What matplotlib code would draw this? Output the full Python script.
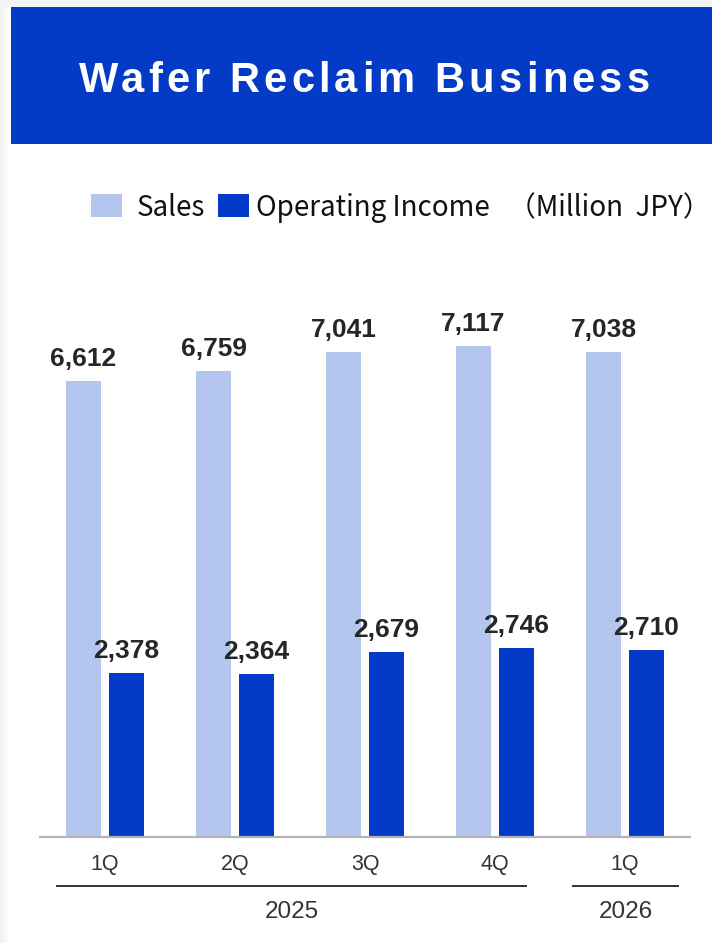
import matplotlib
matplotlib.use("Agg")
import matplotlib.pyplot as plt
import numpy as np
from matplotlib import font_manager
from matplotlib.patches import Rectangle
from matplotlib.transforms import blended_transform_factory

# data
quarters = ["1Q", "2Q", "3Q", "4Q", "1Q"]
years = ["2025", "2026"]
sales = [6612, 6759, 7041, 7117, 7038]
operating_income = [2378, 2364, 2679, 2746, 2710]
title = "Wafer Reclaim Business"
legend_labels = ["Sales", "Operating Income"]
unit_label = "（Million  JPY）"

SALES_COLOR = "#B4C6EE"
OI_COLOR = "#033BC8"
HEADER_COLOR = "#033AC6"
TEXT_DARK = "#262626"

W, H = 712, 943
DPI = 100


def pick_font(names):
    for n in names:
        try:
            font_manager.findfont(n, fallback_to_default=False)
            return n
        except ValueError:
            pass
    return "DejaVu Sans"


ARIAL = pick_font(["Liberation Sans", "DejaVu Sans"])
NARROW = pick_font(["Liberation Sans Narrow", "Liberation Sans"])
JP = pick_font(["Noto Sans CJK JP", "Noto Sans"])

fig = plt.figure(figsize=(W / DPI, H / DPI), dpi=DPI)
fig.patch.set_facecolor("white")

# full-figure overlay in pixel coordinates (y down)
bg = fig.add_axes([0, 0, 1, 1])
grad = np.linspace(0.94, 1.0, 10)[None, :]
bg.imshow(grad, extent=(0, 10, H, 0), cmap="gray", vmin=0, vmax=1, aspect="auto")
bg.add_patch(Rectangle((0, 0), W, 7, color="#f3f3f3", lw=0))
bg.add_patch(Rectangle((11, 7), W - 11, 137, color=HEADER_COLOR, lw=0))
bg.set_xlim(0, W)
bg.set_ylim(H, 0)
bg.axis("off")


# letter-spaced title
def spaced_text(ax, xc, y, s, spacing, **kw):
    r = fig.canvas.get_renderer()

    def width(txt):
        t = ax.text(0, 0, txt, **kw)
        w = t.get_window_extent(renderer=r).width
        t.remove()
        return w

    total = width(s) + spacing * (len(s) - 1)
    x0 = xc - total / 2
    for i, ch in enumerate(s):
        if ch == " ":
            continue
        left = width(s[: i + 1]) - width(ch)
        ax.text(x0 + left + spacing * i, y, ch, ha="left", va="baseline", **kw)


title_kw = dict(fontsize=30, fontweight="bold", family=NARROW, color="white")
spaced_text(bg, 364, 92, title, 7 if NARROW != ARIAL else 4.2, **title_kw)

# legend
legend_kw = dict(fontsize=20, family=JP, color="#111111", va="baseline")
bg.add_patch(Rectangle((91, 194), 31, 23, color=SALES_COLOR, lw=0))
bg.text(137, 216, legend_labels[0], ha="left", **legend_kw)
bg.add_patch(Rectangle((218, 194), 31, 23, color=OI_COLOR, lw=0))
bg.text(256, 216, legend_labels[1], ha="left", **legend_kw)
bg.text(711, 216, unit_label, ha="right", **legend_kw)

# bar chart
ax_bottom, ax_top = 837, 251
ax = fig.add_axes([40 / W, (H - ax_bottom) / H, 650 / W, (ax_bottom - ax_top) / H])
ax.set_facecolor("none")
x = np.arange(len(quarters))
off, bw = 0.165, 0.27
ax.bar(x - off, sales, bw, color=SALES_COLOR, lw=0)
ax.bar(x + off, operating_income, bw, color=OI_COLOR, lw=0)
ax.set_xlim(-0.5, 4.5)
ax.set_ylim(0, 8500)
for side in ["top", "left", "right"]:
    ax.spines[side].set_visible(False)
ax.spines["bottom"].set_color("#b3b3b3")
ax.spines["bottom"].set_linewidth(1.6)
ax.set_xticks([])
ax.set_yticks([])

px = 72 / DPI
value_kw = dict(ha="center", va="baseline", fontsize=19, fontweight="bold",
                family=ARIAL, color=TEXT_DARK, textcoords="offset points")
for xi, v in zip(x - off, sales):
    ax.annotate(f"{v:,}", (xi, v), xytext=(0, 15 * px), **value_kw)
for xi, v in zip(x + off, operating_income):
    ax.annotate(f"{v:,}", (xi, v), xytext=(0, 15 * px), **value_kw)

# category and year labels below the axis
trans = blended_transform_factory(ax.transData, ax.transAxes)
ax_h = ax_bottom - ax_top
for xi, q in zip(x, quarters):
    ax.text(xi, -33 / ax_h, q, transform=trans, ha="center", va="baseline",
            fontsize=15.5, family=ARIAL, color="#333333")

year_spans = [(-0.37, 3.24), (3.6, 4.41)]
for (a, b), yr in zip(year_spans, years):
    ax.plot([a, b], [-49 / ax_h] * 2, transform=trans, clip_on=False,
            color="#333333", lw=1.4)
    ax.text((a + b) / 2, -81 / ax_h, yr, transform=trans, ha="center",
            va="baseline", fontsize=17.5, family=ARIAL, color="#333333")

fig.savefig("out.png", dpi=DPI)
